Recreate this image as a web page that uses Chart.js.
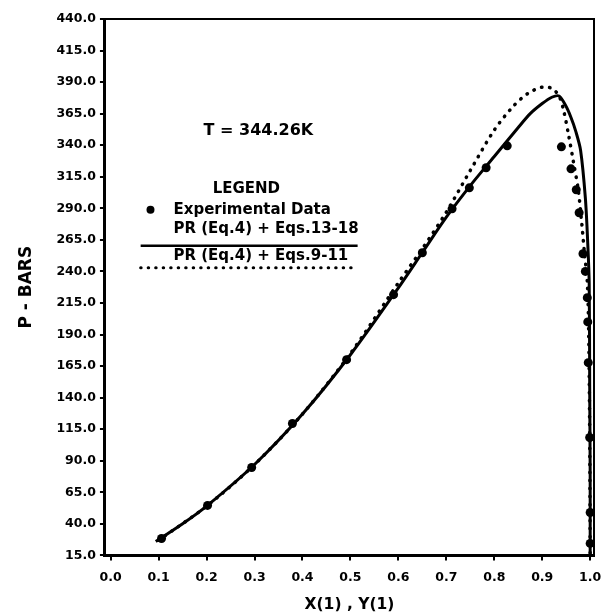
<!DOCTYPE html>
<html>
<head>
<meta charset="utf-8">
<script src="https://cdn.jsdelivr.net/npm/chart.js@4.4.1/dist/chart.umd.min.js"></script>
<style>
  html, body { margin: 0; padding: 0; background: #fff; }
  #wrap { width: 616px; height: 614px; position: relative; }
</style>
</head>
<body>
<div id="wrap"><canvas id="chart"></canvas></div>
<script>
// Tick labels
const xTicks = [0.0, 0.1, 0.2, 0.3, 0.4, 0.5, 0.6, 0.7, 0.8, 0.9, 1.0]
const yTicks = [15, 40, 65, 90, 115, 140, 165, 190, 215, 240, 265, 290, 315, 340, 365, 390, 415, 440]

// Experimental data
const expX = [0.106, 0.202, 0.294, 0.379, 0.492, 0.590, 0.650, 0.712, 0.748, 0.783, 0.827,
  0.940, 0.960, 0.971, 0.977, 0.985, 0.990, 0.994, 0.995, 0.996, 0.999, 1.0, 1.0]
const expY = [28.4, 54.6, 84.6, 119.5, 170.1, 221.6, 254.8, 289.6, 306.2, 322.1, 339.5,
  338.7, 321.3, 304.7, 286.5, 254.0, 240.0, 219.2, 200.0, 167.7, 108.4, 49.0, 24.5]

// PR (Eq.4) + Eqs.13-18
const solidX = [0.094, 0.15, 0.2, 0.3, 0.4, 0.5, 0.6, 0.65, 0.7, 0.75, 0.8, 0.85, 0.875, 0.9,
  0.92, 0.935, 0.948, 0.96, 0.97, 0.98, 0.99, 0.995, 0.998, 0.999, 1.0, 1.0]
const solidY = [26, 40, 54, 87, 127, 174, 227, 255, 283, 308, 331, 354, 365, 373,
  378, 379, 372, 362, 351, 336, 298, 262, 230, 150, 80, 15]

// PR (Eq.4) + Eqs.9-11
const dotX = [0.1, 0.2, 0.3, 0.4, 0.5, 0.6, 0.65, 0.7, 0.75, 0.8, 0.84, 0.87, 0.9, 0.92,
  0.935, 0.945, 0.955, 0.965, 0.975, 0.982, 0.988, 0.994, 0.997, 0.999, 1.0]
const dotY = [27, 54, 87, 127, 175, 231, 258, 287, 320, 352, 371, 381, 386, 385,
  379, 367, 348, 327, 305, 280, 255, 232, 190, 110, 15]

const toPoints = (xs, ys) => xs.map((x, i) => ({ x: x, y: ys[i] }))

const FONT = '"DejaVu Sans", sans-serif'

// Frame on top/right plus the annotation text and legend inside the plot
const annotations = {
  id: 'annotations',
  afterDraw (chart) {
    const { ctx, chartArea: a, scales: { x, y } } = chart
    ctx.save()
    ctx.strokeStyle = '#000'
    ctx.lineWidth = 2
    ctx.beginPath()
    ctx.moveTo(a.left, a.top)
    ctx.lineTo(a.right, a.top)
    ctx.lineTo(a.right, a.bottom)
    ctx.stroke()

    ctx.fillStyle = '#000'
    ctx.textBaseline = 'middle'
    ctx.textAlign = 'center'
    ctx.font = 'bold 16px ' + FONT
    ctx.fillText('T = 344.26K', x.getPixelForValue(0.308), y.getPixelForValue(351))
    ctx.font = 'bold 15px ' + FONT
    ctx.fillText('LEGEND', x.getPixelForValue(0.283), y.getPixelForValue(305.5))

    ctx.textAlign = 'left'
    const tx = x.getPixelForValue(0.131)
    ctx.fillText('Experimental Data', tx, y.getPixelForValue(288.8))
    ctx.fillText('PR (Eq.4) + Eqs.13-18', tx, y.getPixelForValue(273.8))
    ctx.fillText('PR (Eq.4) + Eqs.9-11', tx, y.getPixelForValue(252.4))

    ctx.beginPath()
    ctx.arc(x.getPixelForValue(0.083), y.getPixelForValue(288.8), 4, 0, Math.PI * 2)
    ctx.fill()

    const lx0 = x.getPixelForValue(0.0625)
    ctx.lineWidth = 2.5
    ctx.beginPath()
    ctx.moveTo(lx0, y.getPixelForValue(260.3))
    ctx.lineTo(x.getPixelForValue(0.515), y.getPixelForValue(260.3))
    ctx.stroke()

    ctx.lineWidth = 3
    ctx.lineCap = 'round'
    ctx.setLineDash([0.5, 7])
    ctx.beginPath()
    ctx.moveTo(lx0, y.getPixelForValue(243))
    ctx.lineTo(x.getPixelForValue(0.510), y.getPixelForValue(243))
    ctx.stroke()
    ctx.restore()
  }
}

new Chart(document.getElementById('chart'), {
  type: 'scatter',
  data: {
    datasets: [
      {
        label: 'Experimental Data',
        data: toPoints(expX, expY),
        pointRadius: 4.5,
        pointBackgroundColor: '#000',
        pointBorderWidth: 0,
        showLine: false,
        clip: false
      },
      {
        label: 'PR (Eq.4) + Eqs.13-18',
        data: toPoints(solidX, solidY),
        showLine: true,
        borderColor: '#000',
        borderWidth: 3,
        tension: 0.3,
        pointRadius: 0,
        clip: false
      },
      {
        label: 'PR (Eq.4) + Eqs.9-11',
        data: toPoints(dotX, dotY),
        showLine: true,
        borderColor: '#000',
        borderWidth: 3.5,
        borderDash: [0.5, 7.5],
        borderCapStyle: 'round',
        tension: 0.3,
        pointRadius: 0,
        clip: false
      }
    ]
  },
  options: {
    responsive: true,
    maintainAspectRatio: false,
    animation: false,
    layout: { padding: { left: 16, right: 22, top: 19, bottom: 0 } },
    plugins: {
      legend: { display: false },
      tooltip: { enabled: false }
    },
    scales: {
      x: {
        type: 'linear',
        min: -0.012,
        max: 1.008,
        afterBuildTicks: (scale) => { scale.ticks = xTicks.map(v => ({ value: v })) },
        ticks: {
          color: '#000',
          font: { family: FONT, weight: 'bold', size: 12.5 },
          padding: 10,
          maxRotation: 0,
          callback: (v) => Number(v).toFixed(1)
        },
        grid: { drawOnChartArea: false, color: '#000', lineWidth: 2, tickLength: 5 },
        border: { color: '#000', width: 3 },
        title: {
          display: true,
          text: 'X(1) , Y(1)',
          color: '#000',
          font: { family: FONT, weight: 'bold', size: 15.5 },
          padding: { top: 0, bottom: 0 }
        }
      },
      y: {
        type: 'linear',
        min: 15,
        max: 440,
        afterBuildTicks: (scale) => { scale.ticks = yTicks.map(v => ({ value: v })) },
        ticks: {
          color: '#000',
          font: { family: FONT, weight: 'bold', size: 12.5 },
          padding: 4,
          callback: (v) => Number(v).toFixed(1)
        },
        grid: { drawOnChartArea: false, color: '#000', lineWidth: 2, tickLength: 5 },
        border: { color: '#000', width: 3 },
        title: {
          display: true,
          text: 'P - BARS',
          color: '#000',
          font: { family: FONT, weight: 'bold', size: 17 },
          padding: { top: 0, bottom: 16 }
        }
      }
    }
  },
  plugins: [annotations]
})
</script>
</body>
</html>
